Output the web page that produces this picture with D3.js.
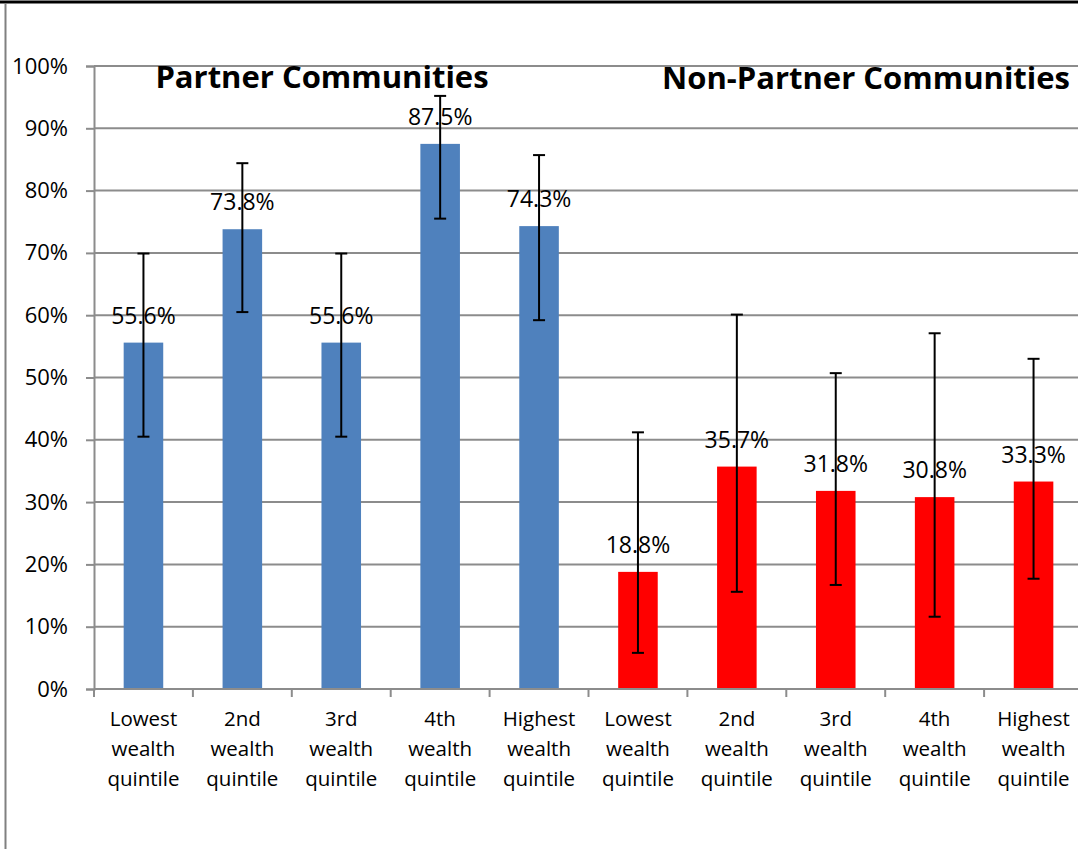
<!DOCTYPE html>
<html>
<head>
<meta charset="utf-8">
<script src="https://cdn.jsdelivr.net/npm/d3@7"></script>
<style>
  body { margin: 0; background: #fff; }
  svg { display: block; font-family: "Open Sans", "Noto Sans", sans-serif; }
</style>
</head>
<body>
<div id="container"></div>
<script>
// chart data
const quintiles = ["Lowest wealth quintile", "2nd wealth quintile", "3rd wealth quintile", "4th wealth quintile", "Highest wealth quintile"];
const groups = ["Partner Communities", "Non-Partner Communities"];
const partnerValues = [55.6, 73.8, 55.6, 87.5, 74.3];
const partnerLow = [40.5, 60.5, 40.5, 75.5, 59.2];
const partnerHigh = [69.9, 84.4, 69.9, 95.2, 85.7];
const nonPartnerValues = [18.8, 35.7, 31.8, 30.8, 33.3];
const nonPartnerLow = [5.8, 15.6, 16.7, 11.6, 17.7];
const nonPartnerHigh = [41.2, 60.1, 50.7, 57.1, 53.0];
const yTicks = [0, 10, 20, 30, 40, 50, 60, 70, 80, 90, 100];

const colors = { "Partner Communities": "#4f81bd", "Non-Partner Communities": "#ff0000" };

// flatten into one row per bar
const rows = [];
groups.forEach((g, gi) => {
  const vals = gi === 0 ? partnerValues : nonPartnerValues;
  const lo = gi === 0 ? partnerLow : nonPartnerLow;
  const hi = gi === 0 ? partnerHigh : nonPartnerHigh;
  quintiles.forEach((q, i) => {
    rows.push({ id: g + "|" + q, group: g, label: q, value: vals[i], low: lo[i], high: hi[i] });
  });
});

const width = 1078, height = 849;
const margin = { left: 94, right: -5, top: 66, bottom: 160 };

const svg = d3.select("#container").append("svg")
  .attr("width", width)
  .attr("height", height);

// frame
svg.append("line")
  .attr("x1", 0).attr("x2", width).attr("y1", 2).attr("y2", 2)
  .attr("stroke", "#000").attr("stroke-width", 3);
svg.append("line")
  .attr("x1", 5.5).attr("x2", 5.5).attr("y1", 4).attr("y2", height)
  .attr("stroke", "#808080").attr("stroke-width", 2);

const x = d3.scaleBand()
  .domain(rows.map(d => d.id))
  .range([margin.left, width - margin.right])
  .paddingInner(0).paddingOuter(0);

const y = d3.scaleLinear()
  .domain([0, 100])
  .range([height - margin.bottom, margin.top]);

// gridlines
svg.append("g")
  .selectAll("line")
  .data(yTicks.filter(t => t > 0))
  .enter().append("line")
  .attr("x1", margin.left).attr("x2", width)
  .attr("y1", d => y(d)).attr("y2", d => y(d))
  .attr("stroke", "#8c8c8c").attr("stroke-width", 2);

// y axis
const yAxis = svg.append("g")
  .attr("transform", `translate(${margin.left},0)`)
  .call(d3.axisLeft(y).tickValues(yTicks).tickFormat(d => d + "%").tickSize(8).tickPadding(18));
yAxis.select(".domain").attr("stroke", "#8c8c8c").attr("stroke-width", 2);
yAxis.selectAll(".tick line").attr("stroke", "#8c8c8c").attr("stroke-width", 2);
yAxis.selectAll(".tick text")
  .attr("font-size", 22).attr("fill", "#000")
  .attr("font-family", "Open Sans");

// bars
const barW = x.bandwidth() * 0.4;
svg.append("g")
  .selectAll("rect")
  .data(rows)
  .enter().append("rect")
  .attr("x", d => x(d.id) + (x.bandwidth() - barW) / 2)
  .attr("y", d => y(d.value))
  .attr("width", barW)
  .attr("height", d => y(0) - y(d.value))
  .attr("fill", d => colors[d.group]);

// x axis
const xAxis = svg.append("g")
  .attr("transform", `translate(0,${y(0)})`);
xAxis.append("line")
  .attr("x1", margin.left).attr("x2", width)
  .attr("stroke", "#8c8c8c").attr("stroke-width", 2);
xAxis.selectAll("line.tk")
  .data(rows)
  .enter().append("line")
  .attr("class", "tk")
  .attr("x1", d => x(d.id)).attr("x2", d => x(d.id))
  .attr("y1", 0).attr("y2", 8)
  .attr("stroke", "#8c8c8c").attr("stroke-width", 2);

const catText = xAxis.selectAll("text.cat")
  .data(rows)
  .enter().append("text")
  .attr("class", "cat")
  .attr("text-anchor", "middle")
  .attr("font-size", 20.5)
  .attr("fill", "#000");
catText.each(function (d) {
  const words = d.label.split(" ");
  d3.select(this).selectAll("tspan")
    .data(words)
    .enter().append("tspan")
    .attr("x", x(d.id) + x.bandwidth() / 2)
    .attr("y", (w, i) => 37 + i * 30)
    .text(w => w);
});

// error bars
const capW = 12;
const err = svg.append("g").attr("stroke", "#000").attr("stroke-width", 2);
rows.forEach(d => {
  const cx = x(d.id) + x.bandwidth() / 2;
  err.append("line").attr("x1", cx).attr("x2", cx).attr("y1", y(d.low)).attr("y2", y(d.high));
  err.append("line").attr("x1", cx - capW / 2).attr("x2", cx + capW / 2).attr("y1", y(d.low)).attr("y2", y(d.low));
  err.append("line").attr("x1", cx - capW / 2).attr("x2", cx + capW / 2).attr("y1", y(d.high)).attr("y2", y(d.high));
});

// data labels
svg.append("g")
  .selectAll("text")
  .data(rows)
  .enter().append("text")
  .attr("x", d => x(d.id) + x.bandwidth() / 2)
  .attr("y", d => y(d.value) - 19)
  .attr("text-anchor", "middle")
  .attr("font-size", 23)
  .attr("fill", "#000")
  .text(d => d.value.toFixed(1) + "%");

// group titles
svg.append("text")
  .attr("x", 322).attr("y", 88)
  .attr("text-anchor", "middle")
  .attr("font-size", 31).attr("font-weight", "bold")
  .text(groups[0]);
svg.append("text")
  .attr("x", 1070).attr("y", 89)
  .attr("text-anchor", "end")
  .attr("font-size", 31).attr("font-weight", "bold")
  .text(groups[1]);
</script>
</body>
</html>
